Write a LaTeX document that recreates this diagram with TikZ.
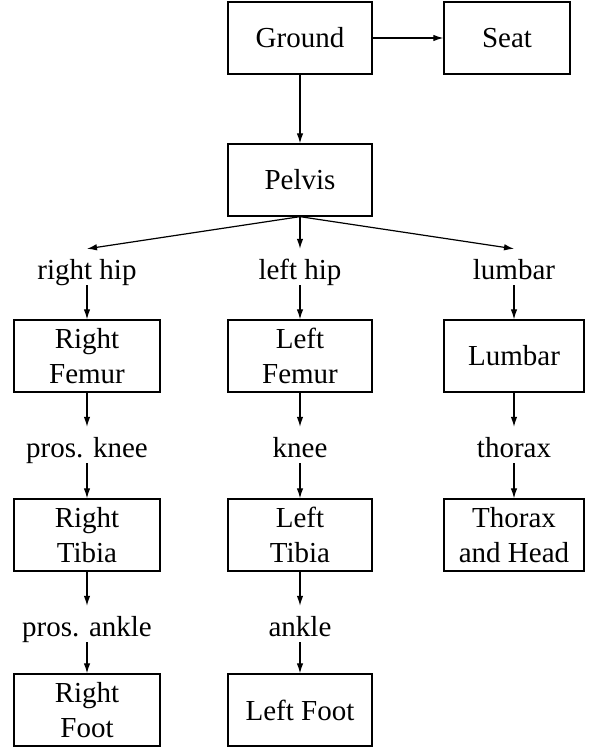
\documentclass[tikz,border=0pt]{standalone}
\usepackage{fontspec}
\setmainfont{Liberation Serif}
\usetikzlibrary{arrows.meta}
\begin{document}
\begin{tikzpicture}[x=1pt,y=-1pt,
  font=\fontsize{29}{35}\selectfont,
  box/.style={draw,line width=1.3pt,minimum width=146pt,minimum height=72pt,inner sep=0pt,align=center},
  lbl/.style={inner sep=0pt,text height=30pt,text depth=6pt},
  arr/.style={line width=1.2pt,-{Latex[length=10pt,width=6.5pt]}}]
\useasboundingbox (0,0) rectangle (598,747);
\node[box,minimum width=144pt] (ground) at (300,38) {Ground};
\node[box,minimum width=126pt] (seat) at (507,38) {Seat};
\node[box,minimum width=144pt] (pelvis) at (300,180) {Pelvis};
\node[lbl] (rhip) at (87,267) {right hip};
\node[lbl] (lhip) at (300,267) {left hip};
\node[lbl] (lumb) at (514,267) {lumbar};
\node[box] (rfem) at (87,356) {Right\\Femur};
\node[box,minimum width=144pt] (lfem) at (300,356) {Left\\Femur};
\node[box,minimum width=140pt] (lumbar) at (514,356) {Lumbar};
\node[lbl] (pknee) at (87,445) {pros. knee};
\node[lbl] (knee) at (300,445) {knee};
\node[lbl] (thor) at (514,445) {thorax};
\node[box] (rtib) at (87,535) {Right\\Tibia};
\node[box,minimum width=144pt] (ltib) at (300,535) {Left\\Tibia};
\node[box,minimum width=140pt] (thorax) at (514,535) {Thorax\\and Head};
\node[lbl] (pankle) at (87,624) {pros. ankle};
\node[lbl] (ankle) at (300,624) {ankle};
\node[box] (rfoot) at (87,710) {Right\\Foot};
\node[box,minimum width=144pt] (lfoot) at (300,710) {Left Foot};
\draw[arr] (ground) -- (seat);
\draw[arr] (ground) -- (pelvis);
\draw[arr] (pelvis.south) -- (rhip.north);
\draw[arr] (pelvis.south) -- (lhip.north);
\draw[arr] (pelvis.south) -- (lumb.north);
\draw[arr] (rhip) -- (rfem);
\draw[arr] (lhip) -- (lfem);
\draw[arr] (lumb) -- (lumbar);
\draw[arr] (rfem) -- (pknee);
\draw[arr] (lfem) -- (knee);
\draw[arr] (lumbar) -- (thor);
\draw[arr] (pknee) -- (rtib);
\draw[arr] (knee) -- (ltib);
\draw[arr] (thor) -- (thorax);
\draw[arr] (rtib) -- (pankle);
\draw[arr] (ltib) -- (ankle);
\draw[arr] (pankle) -- (rfoot);
\draw[arr] (ankle) -- (lfoot);
\end{tikzpicture}
\end{document}
